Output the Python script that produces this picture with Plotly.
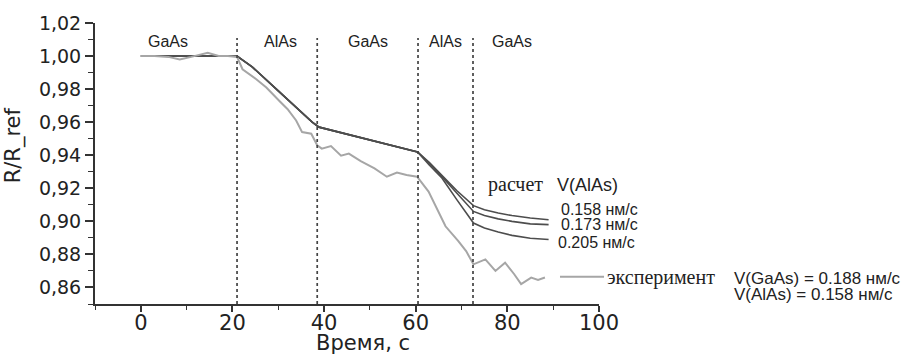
import plotly.graph_objects as go

# ---------------- data ----------------
layer_bounds = [21, 38.5, 60.5, 72.5]
layer_names = ["GaAs", "AlAs", "GaAs", "AlAs", "GaAs"]
layer_label_x = [6, 30.5, 49.5, 66.5, 81]
layer_label_y = 1.009

calc_x = [0, 10, 21, 22, 24.3, 30, 34, 37.4, 38.9, 44, 49.3, 55, 60.4,
          63, 65.6, 69, 72.6, 75, 78, 81, 85, 89]
calc_shared = [1.000, 1.000, 1.000, 0.998, 0.9935, 0.9789, 0.9687, 0.960,
               0.957, 0.9535, 0.950, 0.946, 0.942]
calc_158 = calc_shared + [0.9355, 0.9284, 0.9185, 0.9095, 0.907, 0.905, 0.9035, 0.902, 0.901]
calc_173 = calc_shared + [0.935, 0.9275, 0.917, 0.906, 0.9035, 0.9015, 0.900, 0.8985, 0.898]
calc_205 = calc_shared + [0.934, 0.9266, 0.913, 0.899, 0.896, 0.8935, 0.8915, 0.8898, 0.889]
calc_labels = ["0.158 нм/с", "0.173 нм/с", "0.205 нм/с"]

exp_x = [0, 3, 6, 8.5, 11, 14.6, 17, 19, 21, 22.2, 25.2, 27.4, 30.2, 32, 33.9,
         35.2, 37.2, 38.5, 39.5, 41.5, 43.7, 45.4, 48, 51, 53.7, 55.9, 58, 60.3,
         62.8, 64.5, 66.5, 69.3, 71, 72.6, 75.2, 77.4, 79.5, 81.5, 83, 85.2,
         86.7, 88.2]
exp_y = [1.000, 1.000, 0.9995, 0.998, 0.9995, 1.002, 1.000, 1.000, 0.9995,
         0.992, 0.986, 0.981, 0.973, 0.968, 0.961, 0.954, 0.953, 0.946, 0.944,
         0.9455, 0.9397, 0.941, 0.9365, 0.932, 0.927, 0.9295, 0.928, 0.927,
         0.918, 0.908, 0.897, 0.888, 0.882, 0.874, 0.877, 0.870, 0.875, 0.868,
         0.862, 0.866, 0.8645, 0.866]

x_range = [-10, 100]
y_range = [0.85, 1.02]

CALC_COLOR = "#4d4d4d"
EXP_COLOR = "#a6a6a6"
AX_COLOR = "#333333"

fig = go.Figure()

for ys in (calc_158, calc_173, calc_205):
    fig.add_trace(go.Scatter(x=calc_x, y=ys, mode="lines",
                             line=dict(color=CALC_COLOR, width=1.6),
                             showlegend=False, hoverinfo="skip"))

fig.add_trace(go.Scatter(x=exp_x, y=exp_y, mode="lines",
                         line=dict(color=EXP_COLOR, width=2),
                         showlegend=False, hoverinfo="skip"))

shapes = []
for b in layer_bounds:
    shapes.append(dict(type="line", xref="x", yref="y", x0=b, x1=b,
                       y0=y_range[0], y1=1.011,
                       line=dict(color="#444444", width=1.7, dash="3px,3px")))
# legend sample line for experiment
shapes.append(dict(type="line", xref="paper", yref="paper",
                   x0=0.9226, x1=1.010, y0=0.097, y1=0.097,
                   line=dict(color=EXP_COLOR, width=2)))

annotations = []
for name, lx in zip(layer_names, layer_label_x):
    annotations.append(dict(x=lx, y=layer_label_y, xref="x", yref="y",
                            text=name, showarrow=False,
                            font=dict(family="Liberation Sans", size=16, color="#222")))

SANS = "Liberation Sans"
SERIF = "Liberation Serif"
annotations += [
    dict(x=0.776, y=0.4236, xref="paper", yref="paper", text="расчет",
         xanchor="left", yanchor="middle", showarrow=False,
         font=dict(family=SERIF, size=20, color="#222")),
    dict(x=0.9127, y=0.4236, xref="paper", yref="paper", text="V(AlAs)",
         xanchor="left", yanchor="middle", showarrow=False,
         font=dict(family=SANS, size=18, color="#222")),
    dict(x=0.9206, y=0.3368, xref="paper", yref="paper", text=calc_labels[0],
         xanchor="left", yanchor="middle", showarrow=False,
         font=dict(family=SANS, size=16, color="#222")),
    dict(x=0.9206, y=0.2812, xref="paper", yref="paper", text=calc_labels[1],
         xanchor="left", yanchor="middle", showarrow=False,
         font=dict(family=SANS, size=16, color="#222")),
    dict(x=0.9147, y=0.2187, xref="paper", yref="paper", text=calc_labels[2],
         xanchor="left", yanchor="middle", showarrow=False,
         font=dict(family=SANS, size=16, color="#222")),
    dict(x=1.0119, y=0.0937, xref="paper", yref="paper", text="эксперимент",
         xanchor="left", yanchor="middle", showarrow=False,
         font=dict(family=SERIF, size=20, color="#222")),
    dict(x=1.2639, y=0.0903, xref="paper", yref="paper",
         text="V(GaAs) = 0.188 нм/с",
         xanchor="left", yanchor="middle", showarrow=False,
         font=dict(family=SANS, size=17, color="#222")),
    dict(x=1.2639, y=0.0347, xref="paper", yref="paper",
         text="V(AlAs) = 0.158 нм/с",
         xanchor="left", yanchor="middle", showarrow=False,
         font=dict(family=SANS, size=17, color="#222")),
    # axis titles
    dict(x=0.532, y=-0.14, xref="paper", yref="paper", text="Время, с",
         xanchor="center", yanchor="middle", showarrow=False,
         font=dict(family="DejaVu Sans", size=21, color="#222")),
    dict(x=-0.16, y=0.566, xref="paper", yref="paper", text="R/R_ref",
         textangle=-90, xanchor="center", yanchor="middle", showarrow=False,
         font=dict(family="DejaVu Sans", size=21, color="#222")),
]

fig.update_layout(
    width=910, height=354,
    margin=dict(l=95, r=311, t=16, b=50),
    paper_bgcolor="white", plot_bgcolor="white",
    separators=", ",
    shapes=shapes, annotations=annotations,
    showlegend=False,
)

fig.update_xaxes(range=x_range, tick0=0, dtick=20, ticks="outside", ticklen=6,
                 tickwidth=1.5, tickcolor=AX_COLOR, showline=True,
                 linecolor=AX_COLOR, linewidth=2, showgrid=False, zeroline=False,
                 ticklabelstandoff=-7,
                 tickfont=dict(family="DejaVu Sans", size=21, color="#222"),
                 minor=dict(dtick=10, tick0=0, ticks="outside", ticklen=4,
                            tickwidth=1.2, tickcolor=AX_COLOR, showgrid=False))
fig.update_yaxes(range=y_range, tick0=0.86, dtick=0.02, tickformat=".2f",
                 ticks="outside", ticklen=8, tickwidth=1.5, tickcolor=AX_COLOR,
                 showline=True, linecolor=AX_COLOR, linewidth=2, showgrid=False,
                 zeroline=False,
                 tickfont=dict(family="DejaVu Sans", size=19, color="#222"),
                 minor=dict(dtick=0.01, tick0=0.85, ticks="outside", ticklen=5,
                            tickwidth=1.2, tickcolor=AX_COLOR, showgrid=False))

fig.write_html("out.html")
